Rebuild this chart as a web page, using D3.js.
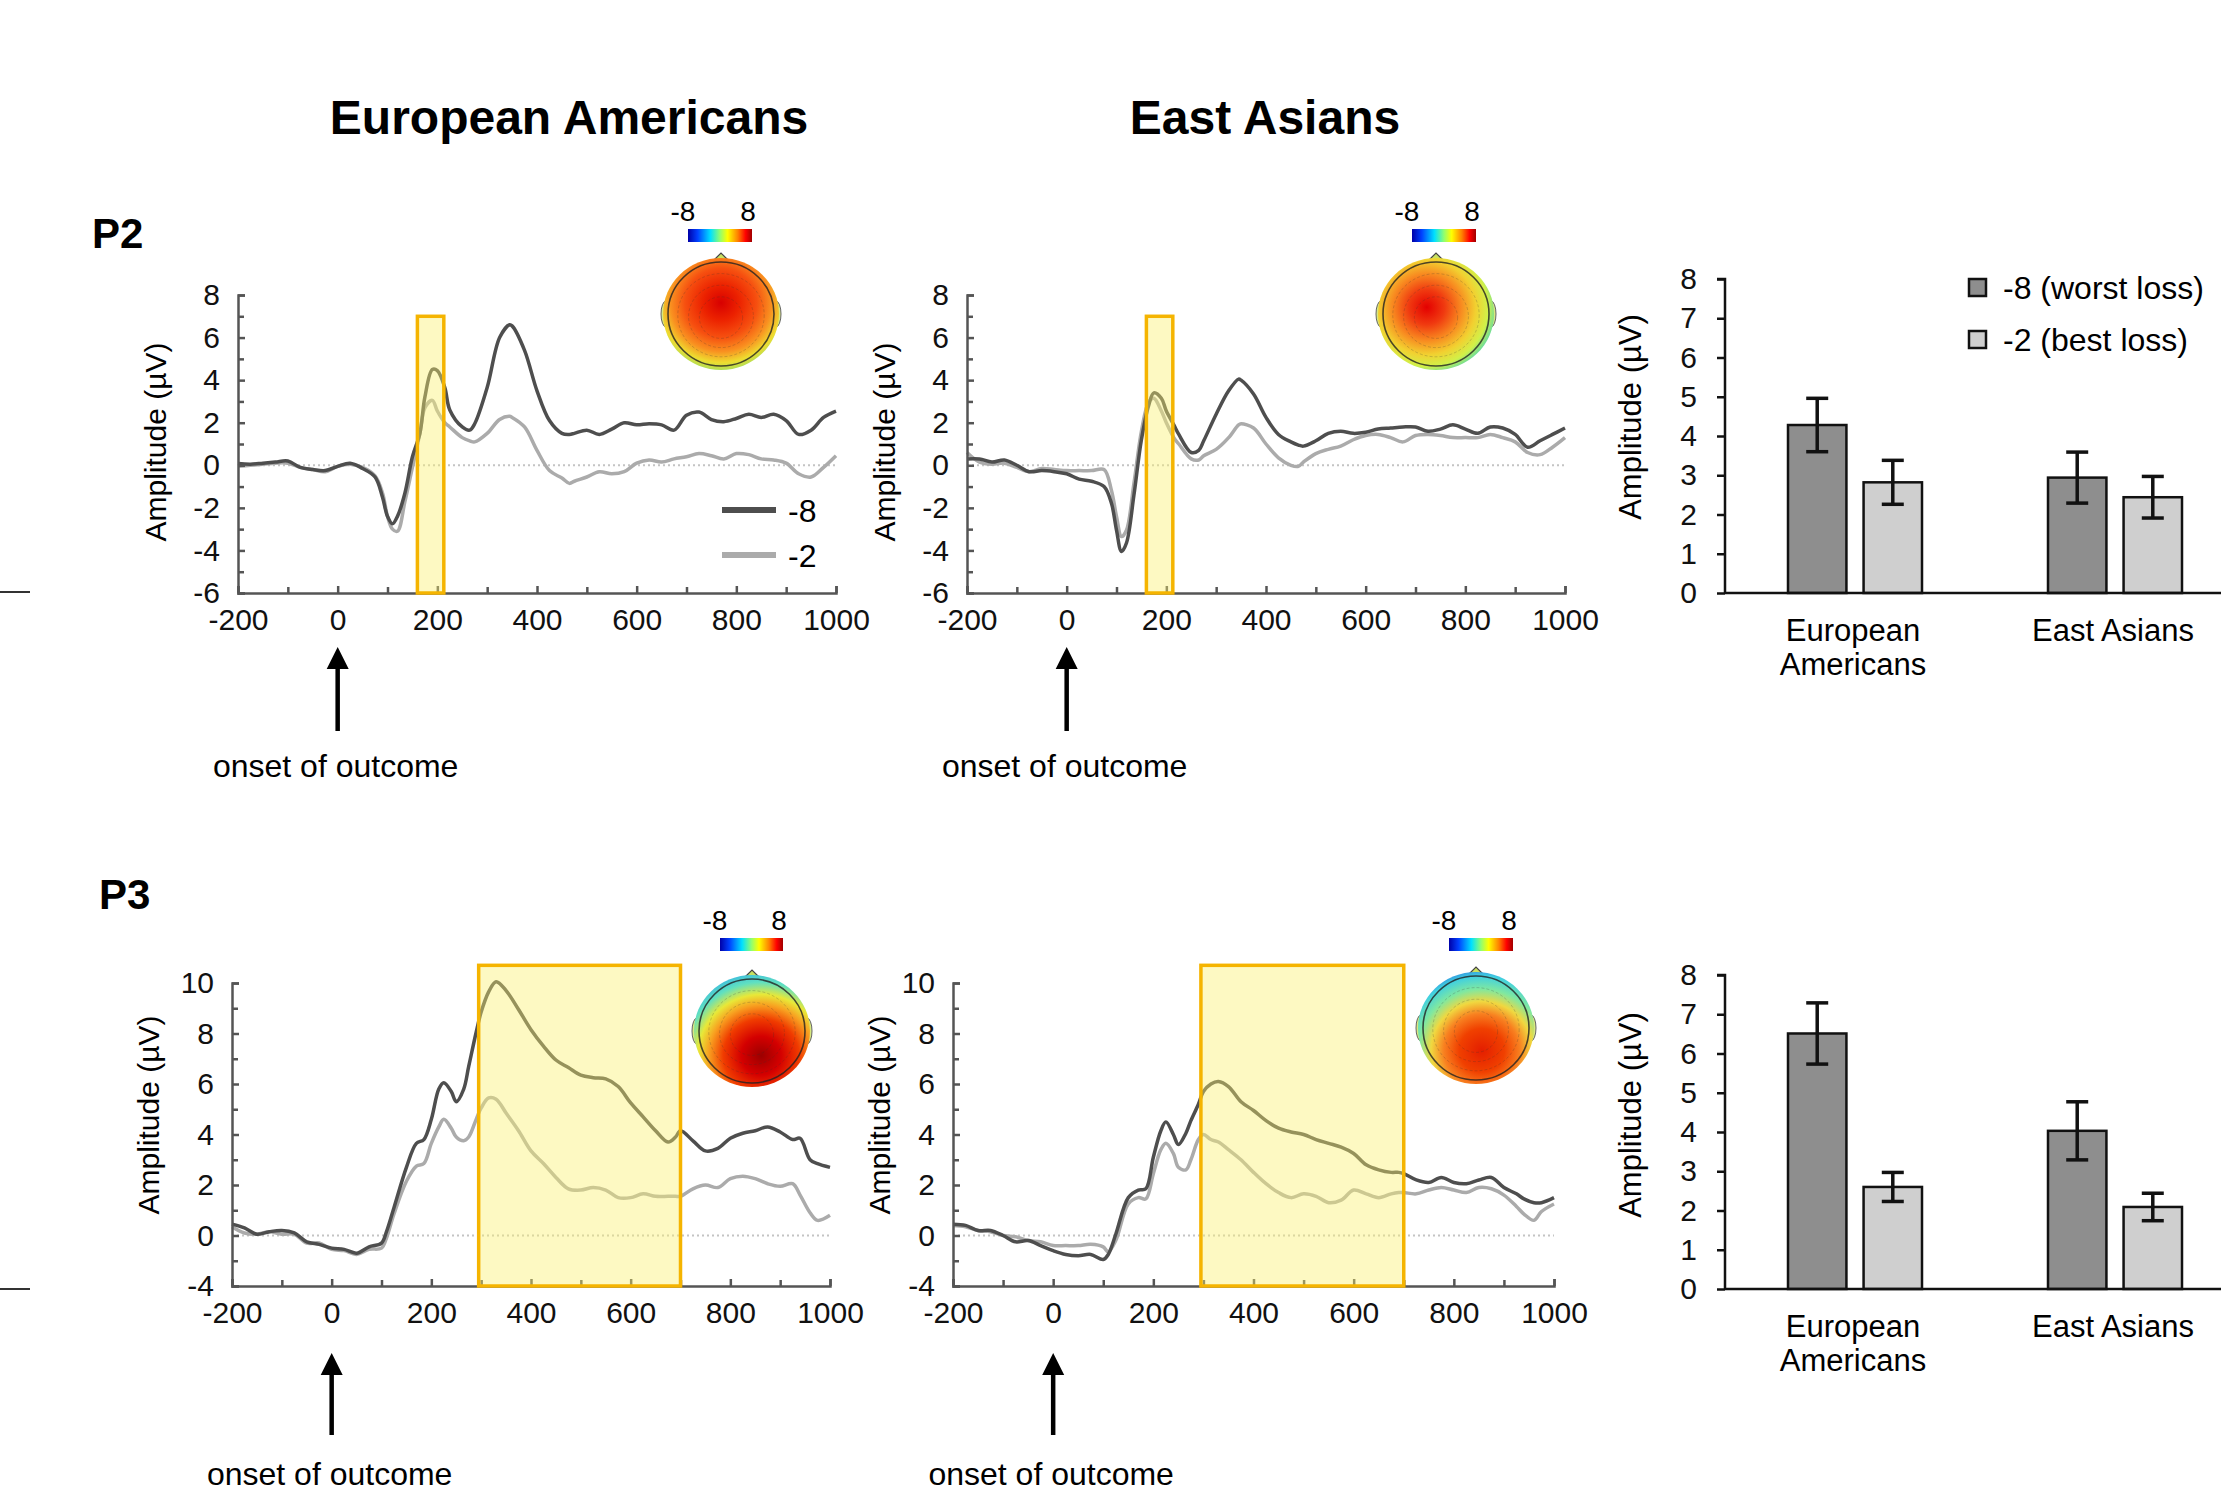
<!DOCTYPE html>
<html>
<head>
<meta charset="utf-8">
<script src="https://d3js.org/d3.v7.min.js"></script>
<style>
body { margin: 0; background: #fff; }
svg { display: block; font-family: "Liberation Sans", Arial, sans-serif; }
</style>
</head>
<body>
<svg width="2221" height="1494"></svg>
<script>
// ---- data ----
var msP2 = [-200,-175,-150,-125,-100,-75,-50,-25,0,25,50,75,90,100,110,120,135,150,165,175,190,200,215,225,250,265,275,300,325,345,350,375,400,425,450,465,475,500,525,550,575,600,625,650,675,700,725,750,775,800,825,850,875,900,925,950,975,1000];

var p2EaWorst = [0.08,0.05,0.1,0.15,0.2,-0.1,-0.2,-0.25,-0.05,0.1,-0.15,-0.55,
  -1.5,-2.4,-2.75,-2.4,-1.3,0.4,1.5,3.2,4.5,4.45,3.65,2.6,1.8,1.65,1.95,
  3.65,6.0,6.6,6.55,5.4,3.5,2.1,1.5,1.45,1.5,
  1.65,1.45,1.7,2.0,1.9,1.95,1.9,1.65,2.35,2.5,2.15,2.05,2.2,2.4,2.25,2.4,2.1,1.45,1.65,2.25,2.55];
var p2EaBest = [-0.05,0.0,0.05,0.1,0.1,-0.1,-0.2,-0.3,-0.05,0.05,-0.1,-0.5,
  -1.3,-2.4,-3.0,-3.1,-1.7,-0.1,1.5,2.7,3.05,2.55,2.0,1.8,1.3,1.15,1.1,
  1.5,2.15,2.3,2.25,1.8,0.7,-0.25,-0.6,-0.85,-0.75,
  -0.55,-0.3,-0.4,-0.3,0.1,0.25,0.15,0.3,0.4,0.55,0.45,0.3,0.55,0.5,0.3,0.25,0.1,-0.4,-0.55,-0.1,0.45];
var p2EasWorst = [0.3,0.3,0.15,0.25,0,-0.3,-0.25,-0.3,-0.4,-0.65,-0.75,-1.0,
  -1.8,-3.05,-4.05,-3.65,-1.4,1.2,2.85,3.4,3.15,2.55,1.9,1.45,0.6,0.7,1.15,
  2.4,3.5,4.05,4.0,3.35,2.25,1.45,1.1,0.95,0.9,
  1.15,1.5,1.6,1.5,1.55,1.7,1.75,1.8,1.8,1.6,1.7,1.9,1.7,1.5,1.8,1.75,1.45,0.85,1.15,1.45,1.75];
var p2EasBest = [0.6,0.15,0.05,0.1,-0.1,-0.3,-0.15,-0.2,-0.25,-0.25,-0.25,-0.2,
  -1.2,-2.4,-3.35,-3.05,-0.85,1.6,3.0,3.15,2.55,2.0,1.3,1.0,0.3,0.25,0.45,
  0.75,1.3,1.9,1.95,1.75,1.0,0.35,0.0,-0.05,0.15,
  0.55,0.75,0.9,1.2,1.4,1.45,1.3,1.1,1.4,1.45,1.4,1.3,1.3,1.3,1.45,1.3,1.1,0.6,0.5,0.85,1.3];

var msP3 = [-200,-175,-150,-125,-100,-75,-50,-25,0,25,50,75,100,110,125,150,170,185,200,215,225,240,250,265,275,290,300,315,330,350,375,400,425,450,475,500,525,550,575,600,625,650,675,690,700,725,750,775,800,825,850,875,900,925,940,960,975,1000];

var p3EaWorst = [0.45,0.3,0.05,0.15,0.2,0.1,-0.25,-0.35,-0.5,-0.55,-0.7,-0.45,-0.3,
  0.15,1.1,2.7,3.65,3.8,4.6,5.8,6.05,5.7,5.3,5.8,6.7,8.05,8.85,9.65,
  10.05,9.7,8.95,8.15,7.5,6.95,6.65,6.35,6.25,6.2,5.9,5.25,4.7,4.15,3.7,
  3.9,4.15,3.75,3.35,3.45,3.85,4.05,4.15,4.3,4.1,3.8,3.85,3.0,2.85,2.7];
var p3EaBest = [0.35,0.1,0.05,0.15,0.05,0.05,-0.3,-0.3,-0.55,-0.6,-0.75,-0.55,-0.5,
  -0.1,0.85,2.15,2.75,2.85,3.65,4.3,4.6,4.25,3.9,3.75,3.9,4.6,5.05,5.45,
  5.4,4.85,4.15,3.35,2.85,2.3,1.85,1.8,1.9,1.8,1.5,1.5,1.65,1.55,1.55,
  1.55,1.55,1.85,2.0,1.9,2.25,2.35,2.25,2.05,1.95,2.05,1.6,0.9,0.6,0.8];
var p3EasWorst = [0.45,0.4,0.2,0.2,0,-0.25,-0.2,-0.4,-0.6,-0.75,-0.8,-0.75,-0.95,
  -0.75,0.05,1.5,1.8,1.85,3.1,4.15,4.5,4.0,3.6,4.05,4.55,5.2,5.7,6.0,
  6.1,5.9,5.3,4.95,4.55,4.25,4.1,4.0,3.8,3.65,3.5,3.25,2.8,2.6,2.5,
  2.5,2.45,2.2,2.1,2.3,2.1,2.05,2.2,2.3,1.9,1.65,1.45,1.3,1.3,1.5];
var p3EasBest = [0.4,0.35,0.2,0.15,0,-0.05,-0.2,-0.25,-0.4,-0.4,-0.4,-0.35,-0.45,
  -0.65,-0.2,1.25,1.5,1.45,2.45,3.4,3.65,3.25,2.7,2.6,3.0,3.8,4.0,3.8,
  3.7,3.4,3.0,2.5,2.05,1.7,1.5,1.65,1.55,1.3,1.4,1.8,1.65,1.5,1.65,
  1.7,1.7,1.65,1.8,1.9,1.8,1.7,1.9,1.85,1.6,1.15,0.85,0.6,0.95,1.25];

var xMajor = [-200,0,200,400,600,800,1000];
var xMinor = [-100,100,300,500,700,900];
var p2YTicks = [-6,-4,-2,0,2,4,6,8];
var p3YTicks = [-2,0,2,4,6,8,10];
var p3YTickLabels = ["-4","0","2","4","6","8","10"];
var p2Window = [160, 213, 7];
var p3Window = [295, 700, 10.7];

var groups = ["European Americans", "East Asians"];
var groupLines = [["European", "Americans"], ["East Asians"]];
var conds = ["-8 (worst loss)", "-2 (best loss)"];
var p2Worst = [4.28, 2.94], p2WorstErr = [0.68, 0.65];
var p2Best = [2.82, 2.44], p2BestErr = [0.56, 0.53];
var p3Worst = [6.51, 4.03], p3WorstErr = [0.78, 0.74];
var p3Best = [2.60, 2.09], p3BestErr = [0.37, 0.35];
var barTicks = [0,1,2,3,4,5,6,7,8];

var svg = d3.select("svg");
svg.append("rect").attr("width", 2221).attr("height", 1494).attr("fill", "#fff");
var defs = svg.append("defs");

function radial(id, cx, cy, r, stops) {
  var g = defs.append("radialGradient").attr("id", id)
    .attr("cx", cx).attr("cy", cy).attr("r", r);
  stops.forEach(function(s){ g.append("stop").attr("offset", s[0]).attr("stop-color", s[1]); });
}
radial("headP2ea", "50%", "40%", "62%", [[0,"#d80000"],[0.25,"#ec2200"],[0.5,"#f65010"],[0.7,"#f99020"],[0.86,"#eedc30"],[1,"#9ee060"]]);
radial("headP2eas", "42%", "44%", "62%", [[0,"#e40000"],[0.25,"#f03a10"],[0.48,"#f88a20"],[0.68,"#f2d030"],[0.85,"#d2f048"],[1,"#50d8b0"]]);
radial("headP3ea", "58%", "72%", "78%", [[0,"#9c0000"],[0.22,"#d40000"],[0.42,"#f03c00"],[0.58,"#f8a020"],[0.7,"#e8e838"],[0.84,"#60e0c0"],[1,"#30b0e8"]]);
radial("headP3eas", "55%", "70%", "78%", [[0,"#e41e00"],[0.25,"#f04000"],[0.42,"#f88020"],[0.56,"#f0d840"],[0.7,"#80e8a0"],[0.85,"#40d0e0"],[1,"#2050e0"]]);

var jet = defs.append("linearGradient").attr("id", "jet");
[[0,"#0000a8"],[0.15,"#0040ff"],[0.35,"#00e0ff"],[0.5,"#90ff70"],[0.62,"#ffff00"],[0.78,"#ff8000"],[0.9,"#ff0000"],[1,"#a00000"]]
  .forEach(function(s){ jet.append("stop").attr("offset", s[0]).attr("stop-color", s[1]); });

// titles
svg.append("text").attr("x", 569).attr("y", 134).attr("text-anchor", "middle")
  .attr("font-size", 48).attr("font-weight", "bold").text("European Americans");
svg.append("text").attr("x", 1265).attr("y", 134).attr("text-anchor", "middle")
  .attr("font-size", 48).attr("font-weight", "bold").text("East Asians");
svg.append("text").attr("x", 92).attr("y", 248).attr("font-size", 42).attr("font-weight", "bold").text("P2");
svg.append("text").attr("x", 99).attr("y", 909).attr("font-size", 42).attr("font-weight", "bold").text("P3");

// crop marks at left edge
[592, 1289].forEach(function(yy){
  svg.append("line").attr("x1", 0).attr("x2", 30).attr("y1", yy).attr("y2", yy)
    .attr("stroke", "#333").attr("stroke-width", 2);
});

function head(cx, cy, grad) {
  var g = svg.append("g");
  g.append("path").attr("d", "M" + (cx-9) + "," + (cy-52) + " L" + cx + "," + (cy-61) + " L" + (cx+9) + "," + (cy-52))
    .attr("fill", "#c8e060").attr("stroke", "#444").attr("stroke-width", 1.2);
  g.append("ellipse").attr("cx", cx-55).attr("cy", cy).attr("rx", 5).attr("ry", 13).attr("fill", "#d8e880").attr("stroke", "#666").attr("stroke-width", 1);
  g.append("ellipse").attr("cx", cx+55).attr("cy", cy).attr("rx", 5).attr("ry", 13).attr("fill", "#d8e880").attr("stroke", "#666").attr("stroke-width", 1);
  g.append("ellipse").attr("cx", cx).attr("cy", cy).attr("rx", 58).attr("ry", 56).attr("fill", "url(#" + grad + ")");
  [0.8, 0.6, 0.4].forEach(function(k){
    g.append("ellipse").attr("cx", cx).attr("cy", cy + 6*(1-k)).attr("rx", 54*k).attr("ry", 52*k)
      .attr("fill", "none").attr("stroke", "#333").attr("stroke-opacity", 0.22).attr("stroke-width", 1).attr("stroke-dasharray", "3,2");
  });
  g.append("ellipse").attr("cx", cx).attr("cy", cy).attr("rx", 53).attr("ry", 52)
    .attr("fill", "none").attr("stroke", "#222").attr("stroke-opacity", 0.8).attr("stroke-width", 1.6);
}

function colorbar(x0, x1, yTop) {
  svg.append("rect").attr("x", x0).attr("y", yTop).attr("width", x1 - x0).attr("height", 13).attr("fill", "url(#jet)");
  svg.append("text").attr("x", x0 - 5).attr("y", yTop - 8).attr("text-anchor", "middle").attr("font-size", 28).text("-8");
  svg.append("text").attr("x", x1 - 4).attr("y", yTop - 8).attr("text-anchor", "middle").attr("font-size", 28).text("8");
}

function erpPanel(o) {
  var x = d3.scaleLinear().domain([-200, 1000]).range([o.x0, o.x1]);
  var y = d3.scaleLinear().domain(o.yDomain).range([o.yBottom, o.yTop]);
  var g = svg.append("g");

  g.append("line").attr("x1", x(-200)).attr("x2", x(1000)).attr("y1", y(0)).attr("y2", y(0))
    .attr("stroke", "#c4c4c4").attr("stroke-width", 2).attr("stroke-dasharray", "2,3");

  var line = d3.line().x(function(d, i){ return x(o.ms[i]); }).y(function(d){ return y(d); })
    .curve(d3.curveCatmullRom.alpha(0.5));
  g.append("path").datum(o.best).attr("d", line).attr("fill", "none")
    .attr("stroke", "#ababab").attr("stroke-width", 3.5);
  g.append("path").datum(o.worst).attr("d", line).attr("fill", "none")
    .attr("stroke", "#4e4e4e").attr("stroke-width", 3.5);

  g.append("g").attr("transform", "translate(0," + y(o.yDomain[0]) + ")")
    .call(d3.axisBottom(x).tickValues(xMajor).tickSize(-7).tickPadding(16).tickFormat(function(d){ return String(d); }));
  g.append("g").attr("transform", "translate(0," + y(o.yDomain[0]) + ")")
    .call(d3.axisBottom(x).tickValues(xMinor).tickSize(-6).tickFormat(""))
    .call(function(s){ s.select(".domain").remove(); });
  g.append("g").attr("transform", "translate(" + x(-200) + ",0)")
    .call(d3.axisLeft(y).tickValues(o.yTicks).tickSize(-7).tickPadding(18)
      .tickFormat(function(d, i){ return o.yLabels ? o.yLabels[i] : String(d); }));
  g.append("g").attr("transform", "translate(" + x(-200) + ",0)")
    .call(d3.axisLeft(y).tickValues(o.yTicks.slice(0, -1).map(function(v){ return v + 1; })).tickSize(-6).tickFormat(""))
    .call(function(s){ s.select(".domain").remove(); });
  g.selectAll(".domain, .tick line").attr("stroke", "#555").attr("stroke-width", 2.5);
  g.selectAll(".tick text").attr("font-size", 30).attr("fill", "#111").attr("font-family", "Liberation Sans, Arial, sans-serif");

  // analysis window overlay
  g.append("rect").attr("x", x(o.win[0])).attr("y", y(o.win[2]))
    .attr("width", x(o.win[1]) - x(o.win[0])).attr("height", y(o.yDomain[0]) - y(o.win[2]))
    .attr("fill", "rgb(250,240,110)").attr("fill-opacity", 0.42)
    .attr("stroke", "#f5b400").attr("stroke-width", 3.5);

  g.append("text").attr("transform", "translate(" + o.labelX + "," + o.labelY + ") rotate(-90)")
    .attr("text-anchor", "middle").attr("font-size", 30).text("Amplitude (\u00b5V)");

  // onset arrow
  var ax0 = x(0);
  g.append("line").attr("x1", ax0).attr("x2", ax0).attr("y1", o.arrowTail).attr("y2", o.arrowTip + 14)
    .attr("stroke", "#000").attr("stroke-width", 4.5);
  g.append("path").attr("d", "M" + (ax0 - 11) + "," + (o.arrowTip + 22) + " L" + ax0 + "," + o.arrowTip + " L" + (ax0 + 11) + "," + (o.arrowTip + 22) + " Z")
    .attr("fill", "#000");
  g.append("text").attr("x", ax0 - 2).attr("y", o.textY).attr("text-anchor", "middle")
    .attr("font-size", 32).text("onset of outcome");

  head(o.head[0], o.head[1], o.head[2]);
  colorbar(o.bar[0], o.bar[1], o.bar[2]);
}

erpPanel({x0: 238, x1: 836, yBottom: 593, yTop: 295, yDomain: [-6, 8], yTicks: p2YTicks,
  ms: msP2, worst: p2EaWorst, best: p2EaBest, win: p2Window, labelX: 166, labelY: 442,
  arrowTip: 647, arrowTail: 731, textY: 777, head: [721, 314, "headP2ea"], bar: [688, 752, 229]});
erpPanel({x0: 967, x1: 1565, yBottom: 593, yTop: 295, yDomain: [-6, 8], yTicks: p2YTicks,
  ms: msP2, worst: p2EasWorst, best: p2EasBest, win: p2Window, labelX: 895, labelY: 442,
  arrowTip: 647, arrowTail: 731, textY: 777, head: [1436, 314, "headP2eas"], bar: [1412, 1476, 229]});
erpPanel({x0: 232, x1: 830, yBottom: 1286, yTop: 983, yDomain: [-2, 10], yTicks: p3YTicks, yLabels: p3YTickLabels,
  ms: msP3, worst: p3EaWorst, best: p3EaBest, win: p3Window, labelX: 159, labelY: 1115,
  arrowTip: 1353, arrowTail: 1435, textY: 1485, head: [752, 1031, "headP3ea"], bar: [720, 783, 938]});
erpPanel({x0: 953, x1: 1554, yBottom: 1286, yTop: 983, yDomain: [-2, 10], yTicks: p3YTicks, yLabels: p3YTickLabels,
  ms: msP3, worst: p3EasWorst, best: p3EasBest, win: p3Window, labelX: 890, labelY: 1115,
  arrowTip: 1353, arrowTail: 1435, textY: 1485, head: [1476, 1028, "headP3eas"], bar: [1449, 1513, 938]});

// legend for line plots
[["-8", "#4e4e4e", 510], ["-2", "#ababab", 555]].forEach(function(l){
  svg.append("line").attr("x1", 722).attr("x2", 776).attr("y1", l[2]).attr("y2", l[2])
    .attr("stroke", l[1]).attr("stroke-width", 6);
  svg.append("text").attr("x", 788).attr("y", l[2] + 12).attr("font-size", 32).text(l[0]);
});

var barFill = ["#8e8e8e", "#cfcfcf"];

function barPanel(o) {
  var y = d3.scaleLinear().domain([0, 8]).range([o.y0, o.y1]);
  var gx = d3.scaleBand().domain(groups).range([1725, 2245]);
  var cx = d3.scaleBand().domain(conds).range([63, 197]).paddingInner(0.227);
  var g = svg.append("g");
  var rows = [];
  groups.forEach(function(grp, i){
    rows.push({grp: grp, c: conds[0], v: o.worst[i], e: o.worstErr[i], k: 0});
    rows.push({grp: grp, c: conds[1], v: o.best[i], e: o.bestErr[i], k: 1});
  });
  g.selectAll("rect.bar").data(rows).enter().append("rect").attr("class", "bar")
    .attr("x", function(d){ return gx(d.grp) + cx(d.c); })
    .attr("y", function(d){ return y(d.v); })
    .attr("width", cx.bandwidth())
    .attr("height", function(d){ return y(0) - y(d.v); })
    .attr("fill", function(d){ return barFill[d.k]; })
    .attr("stroke", "#111").attr("stroke-width", 2.5);
  var eb = g.selectAll("g.err").data(rows).enter().append("g").attr("class", "err")
    .attr("transform", function(d){ return "translate(" + (gx(d.grp) + cx(d.c) + cx.bandwidth()/2) + ",0)"; });
  eb.append("line").attr("y1", function(d){ return y(d.v + d.e); }).attr("y2", function(d){ return y(d.v - d.e); });
  eb.append("line").attr("x1", -11).attr("x2", 11).attr("y1", function(d){ return y(d.v + d.e); }).attr("y2", function(d){ return y(d.v + d.e); });
  eb.append("line").attr("x1", -11).attr("x2", 11).attr("y1", function(d){ return y(d.v - d.e); }).attr("y2", function(d){ return y(d.v - d.e); });
  eb.selectAll("line").attr("stroke", "#111").attr("stroke-width", 3.5);

  var ay = g.append("g").attr("transform", "translate(1725,0)")
    .call(d3.axisLeft(y).tickValues(barTicks).tickSize(8).tickPadding(20).tickFormat(function(d){ return String(d); }));
  ay.select(".domain").attr("d", "M-8," + y(8) + "H0V" + y(0));
  g.append("line").attr("x1", 1725).attr("x2", 2221).attr("y1", y(0)).attr("y2", y(0))
    .attr("stroke", "#111").attr("stroke-width", 2.5);
  ay.selectAll(".domain, .tick line").attr("stroke", "#111").attr("stroke-width", 2.5);
  ay.selectAll(".tick text").attr("font-size", 30).attr("fill", "#111").attr("font-family", "Liberation Sans, Arial, sans-serif");

  g.append("text").attr("transform", "translate(" + 1641 + "," + o.labelY + ") rotate(-90)")
    .attr("text-anchor", "middle").attr("font-size", 31).text("Amplitude (\u00b5V)");

  groups.forEach(function(grp, i){
    groupLines[i].forEach(function(t, j){
      g.append("text").attr("x", gx(grp) + gx.bandwidth()/2 - 2).attr("y", o.catY + j*34)
        .attr("text-anchor", "middle").attr("font-size", 31).text(t);
    });
  });
}

barPanel({y0: 593, y1: 279, worst: p2Worst, worstErr: p2WorstErr, best: p2Best, bestErr: p2BestErr, labelY: 417, catY: 641});
barPanel({y0: 1289, y1: 975, worst: p3Worst, worstErr: p3WorstErr, best: p3Best, bestErr: p3BestErr, labelY: 1115, catY: 1337});

// bar legend
conds.forEach(function(c, i){
  var yy = 288 + i*52;
  svg.append("rect").attr("x", 1969).attr("y", yy - 9).attr("width", 17).attr("height", 17)
    .attr("fill", barFill[i]).attr("stroke", "#111").attr("stroke-width", 2.5);
  svg.append("text").attr("x", 2003).attr("y", yy + 11).attr("font-size", 32).text(c);
});
</script>
</body>
</html>
